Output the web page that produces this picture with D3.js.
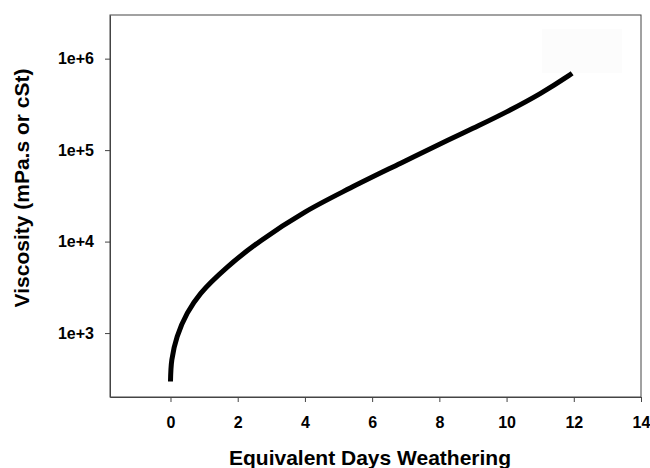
<!DOCTYPE html>
<html>
<head>
<meta charset="utf-8">
<script src="https://cdn.jsdelivr.net/npm/d3@7"></script>
<style>
  html, body { margin: 0; padding: 0; background: #fff; }
  svg { display: block; font-family: "Liberation Sans", Arial, sans-serif; }
</style>
</head>
<body>
<svg id="chart" width="650" height="468"></svg>
<script>
// Data
const days = [0, 0.04, 0.2, 0.5, 0.9, 1.7, 2.7, 4.0, 5.35, 6.85, 8.25, 9.0, 10.0, 11.0, 11.85, 11.95];
const viscosity = [295, 510, 915, 1650, 2720, 5300, 10300, 21000, 38500, 72000, 128000, 173000, 262000, 415000, 652000, 692000];
const xTicks = [0, 2, 4, 6, 8, 10, 12, 14];
const yTicks = [1e3, 1e4, 1e5, 1e6];
const yTickLabels = ["1e+3", "1e+4", "1e+5", "1e+6"];
const xTitle = "Equivalent Days Weathering";
const yTitle = "Viscosity (mPa.s or cSt)";

const svg = d3.select("#chart");
const mLeft = 110, mRight = 641, mTop = 15, mBottom = 397;

const x = d3.scaleLinear().domain([-1.8, 14]).range([mLeft, mRight]);
const y = d3.scaleLog().domain([200, 3e6]).range([mBottom, mTop]);

const axisColor = "#444";
const fontFam = "Liberation Sans, Arial, sans-serif";

// faint empty legend box
svg.append("rect")
  .attr("x", 542).attr("y", 29).attr("width", 80).attr("height", 44)
  .attr("fill", "#fcfcfc");

// frame
svg.append("rect")
  .attr("x", mLeft).attr("y", mTop)
  .attr("width", mRight - mLeft).attr("height", mBottom - mTop)
  .attr("fill", "none").attr("stroke", axisColor).attr("stroke-width", 1);

// x axis
const gx = svg.append("g").attr("transform", `translate(0,${mBottom})`)
  .call(d3.axisBottom(x).tickValues(xTicks).tickSizeInner(5).tickSizeOuter(0).tickPadding(15));
gx.select(".domain").attr("stroke", axisColor);
gx.selectAll(".tick line").attr("stroke", axisColor);
gx.selectAll(".tick text").attr("fill", "#000").attr("font-size", 16).attr("font-weight", "bold")
  .attr("font-family", fontFam);

// y axis
const gy = svg.append("g").attr("transform", `translate(${mLeft},0)`)
  .call(d3.axisLeft(y).tickValues(yTicks).tickFormat((d, i) => yTickLabels[i]).tickSizeInner(5).tickSizeOuter(0).tickPadding(11));
gy.select(".domain").attr("stroke", axisColor);
gy.selectAll(".tick line").attr("stroke", axisColor);
gy.selectAll(".tick text").attr("fill", "#000").attr("font-size", 16).attr("font-weight", "bold")
  .attr("font-family", fontFam);

// curve
const pts = days.map((d, i) => [d, viscosity[i]]);
const line = d3.line().x(d => x(d[0])).y(d => y(d[1])).curve(d3.curveCatmullRom.alpha(0.5));
svg.append("path")
  .datum(pts)
  .attr("d", line)
  .attr("fill", "none")
  .attr("stroke", "#000")
  .attr("stroke-width", 5);

// titles
svg.append("text")
  .attr("x", 370).attr("y", 465)
  .attr("text-anchor", "middle")
  .attr("font-family", fontFam)
  .attr("font-size", 21).attr("font-weight", "bold")
  .text(xTitle);

svg.append("text")
  .attr("transform", `translate(29,188) rotate(-90)`)
  .attr("text-anchor", "middle")
  .attr("font-family", fontFam)
  .attr("font-size", 21).attr("font-weight", "bold")
  .text(yTitle);
</script>
</body>
</html>
